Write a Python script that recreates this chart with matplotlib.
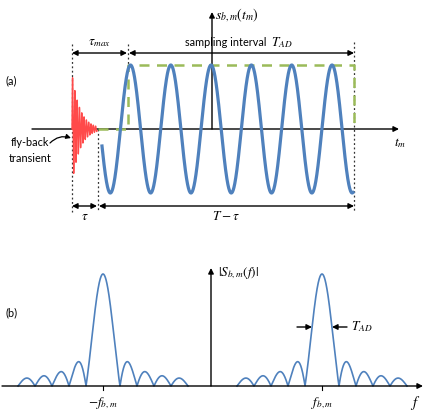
import numpy as np
import matplotlib.pyplot as plt

plt.rcParams['mathtext.fontset'] = 'stix'
plt.rcParams['font.family'] = ['Lato', 'DejaVu Sans']

# ---- panel (a): time signal (pixel-space schematic) ----
axis_a_y = 129            # time axis height
t_fly = 72                # start of fly-back transient
t_tau = 98                # end of tau (transient settled)
t_taumax = 128            # end of tau_max, start of sampling
t_end = 354               # end of sweep T
sine_amp = 64
sine_period = 40.3
sine_first_peak = 130.5
sine_start = 102
trans_amp = 55
trans_period = 2.3
trans_end = 97

# ---- panel (b): spectrum ----
axis_b_y = 386
spec_centers = [103, 322]          # -f_bm, f_bm
spec_null = 17                     # null spacing in px
spec_height = 112
spec_lobes = 5                     # lobes on each side of main (incl. main half)
spec_labels = [r'$-f_{b,m}$', r'$f_{b,m}$']

blue = '#4F81BD'
red = '#FF4A4A'
green = '#9BBB59'

fig = plt.figure(figsize=(4.24, 4.16), dpi=100)
ax = fig.add_axes([0, 0, 1, 1])
ax.set_xlim(0, 424)
ax.set_ylim(416, 0)
ax.axis('off')

arrow_kw = dict(arrowstyle='-|>', color='black', lw=1.0, shrinkA=0, shrinkB=0,
                mutation_scale=8)
dbl_kw = dict(arrowstyle='<|-|>', color='black', lw=1.0, shrinkA=0, shrinkB=0,
              mutation_scale=8)

# axes of panel (a)
ax.annotate('', xy=(399, axis_a_y), xytext=(32, axis_a_y), arrowprops=arrow_kw)
ax.annotate('', xy=(212, 12), xytext=(212, axis_a_y), arrowprops=arrow_kw)

# green dashed sampling window
ax.plot([t_tau, t_taumax, t_taumax, t_end, t_end],
        [axis_a_y, axis_a_y, axis_a_y - sine_amp, axis_a_y - sine_amp, axis_a_y],
        color=green, lw=1.8, ls=(0, (4, 3)), zorder=3)

# fly-back transient
tt = np.linspace(t_fly, trans_end, 1000)
env = trans_amp * np.exp(-(tt - t_fly) / 8)
ax.plot(tt, axis_a_y - env * np.sin(2 * np.pi * (tt - t_fly) / trans_period),
        color=red, lw=1.0, zorder=4)

# beat signal
ts = np.linspace(sine_start, t_end - 1, 1500)
ax.plot(ts, axis_a_y - sine_amp * np.cos(2 * np.pi * (ts - sine_first_peak) / sine_period),
        color=blue, lw=2.3, zorder=4)

# dotted guides
dot = dict(color='#333333', lw=0.9, ls=(0, (1.5, 2)))
ax.plot([t_fly, t_fly], [44, 212], **dot)
ax.plot([t_taumax, t_taumax], [44, axis_a_y - sine_amp], **dot)
ax.plot([t_tau, t_tau], [axis_a_y, 212], **dot)
ax.plot([t_end, t_end], [42, 212], **dot)

# interval arrows
ax.annotate('', xy=(t_fly, 53), xytext=(t_taumax - 1, 53), arrowprops=dbl_kw)
ax.annotate('', xy=(t_taumax + 1, 53), xytext=(t_end, 53), arrowprops=dbl_kw)
ax.annotate('', xy=(t_fly, 206), xytext=(t_tau - 1, 206), arrowprops=dbl_kw)
ax.annotate('', xy=(t_tau + 1, 206), xytext=(t_end, 206), arrowprops=dbl_kw)

fs = 7.8
mfs = 9.5
ax.text(99, 43, r'$\tau_{max}$', fontsize=mfs, ha='center', va='center')
ax.text(185, 43, 'sampling interval', fontsize=fs, ha='left', va='center')
ax.text(271, 43, r'$T_{AD}$', fontsize=mfs, ha='left', va='center')
ax.text(85, 216, r'$\tau$', fontsize=mfs, ha='center', va='center')
ax.text(226, 216, r'$T-\tau$', fontsize=mfs, ha='center', va='center')
ax.text(215, 15, r'$s_{b,m}(t_m)$', fontsize=10, ha='left', va='center')
ax.text(400, 143, r'$t_m$', fontsize=mfs, ha='center', va='center')
ax.text(5, 81, '(a)', fontsize=fs, ha='left', va='center')
ax.text(30, 143, 'fly-back', fontsize=fs, ha='center', va='center')
ax.text(30, 158, 'transient', fontsize=fs, ha='center', va='center')
ax.annotate('', xy=(71, 138), xytext=(50, 143),
            arrowprops=dict(arrowstyle='-|>', color='black', lw=0.9,
                            connectionstyle='arc3,rad=-0.3', mutation_scale=7,
                            shrinkA=0, shrinkB=0))

# ---- panel (b) ----
ax.annotate('', xy=(423, axis_b_y), xytext=(2, axis_b_y), arrowprops=arrow_kw)
ax.annotate('', xy=(211, 268), xytext=(211, axis_b_y), arrowprops=arrow_kw)

for c, lab in zip(spec_centers, spec_labels):
    f = np.linspace(c - spec_lobes * spec_null, c + spec_lobes * spec_null, 1200)
    u = (f - c) / spec_null
    ax.plot(f, axis_b_y - spec_height * np.abs(np.sinc(u)), color=blue, lw=1.2)
    ax.plot([c, c], [axis_b_y, axis_b_y + 4], color='black', lw=0.8)
    ax.text(c, 403, lab, fontsize=mfs, ha='center', va='center')

ax.text(415, 403, r'$f$', fontsize=10.5, ha='center', va='center')
ax.text(218, 273, r'$|S_{b,m}(f)|$', fontsize=mfs, ha='left', va='center')
ax.text(5, 313, '(b)', fontsize=fs, ha='left', va='center')

ax.annotate('', xy=(312, 327), xytext=(297, 327),
            arrowprops=dict(arrowstyle='-|>', color='black', lw=1.0,
                            shrinkA=0, shrinkB=0, mutation_scale=8))
ax.annotate('', xy=(332, 327), xytext=(347, 327),
            arrowprops=dict(arrowstyle='-|>', color='black', lw=1.0,
                            shrinkA=0, shrinkB=0, mutation_scale=8))
ax.text(351, 327, r'$T_{AD}$', fontsize=mfs, ha='left', va='center')

fig.savefig('out.png', dpi=100)
